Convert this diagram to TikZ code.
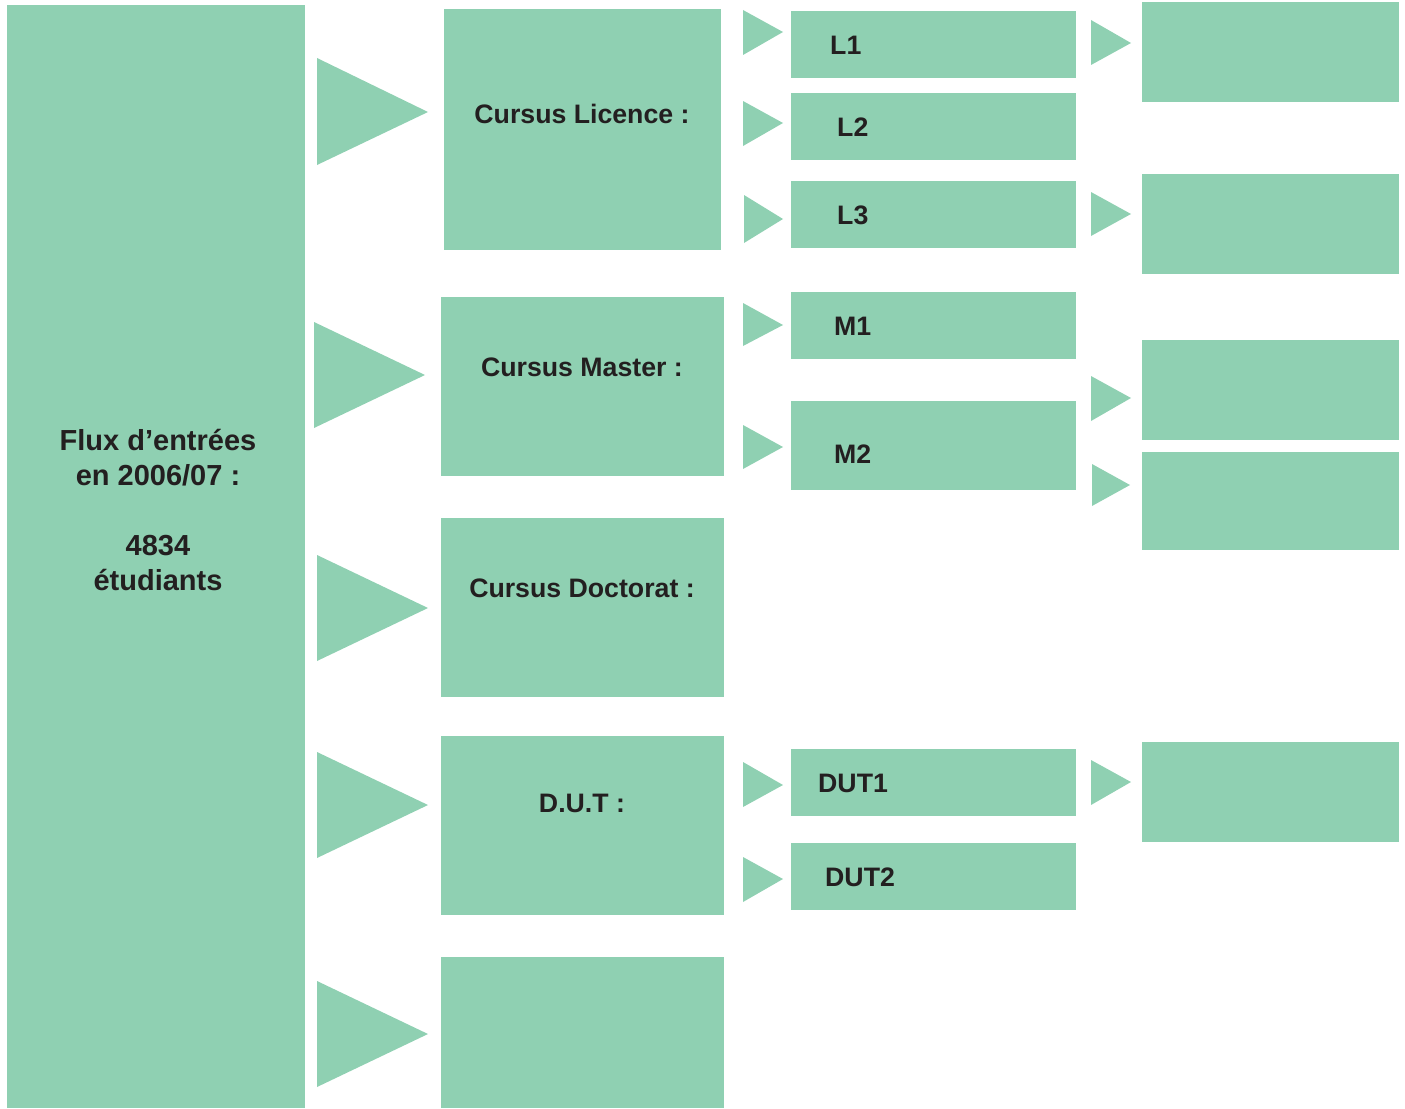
\documentclass[tikz,border=0pt]{standalone}
\usepackage{fontspec}
\setmainfont{Liberation Sans}
\usetikzlibrary{positioning}
\definecolor{flowgreen}{HTML}{8FD0B2}
\definecolor{flowtext}{HTML}{231F20}

\begin{document}
\begin{tikzpicture}[
    x=1pt, y=-1pt,
    box/.style={rectangle, fill=flowgreen, draw=none, inner sep=0pt,
                outer sep=0pt, anchor=north west},
    tri/.style={fill=flowgreen, draw=none},
    lbl/.style={text=flowtext, inner sep=0pt,
                font=\fontsize{26.7}{32}\selectfont\bfseries},
    biglbl/.style={text=flowtext, inner sep=0pt, align=center,
                   font=\fontsize{29}{35}\selectfont\bfseries}
]
\useasboundingbox (0,0) rectangle (1405,1108);

% Left column: total intake
\node[box, minimum width=298pt, minimum height=1103pt] (flux) at (7,5) {};
\node[biglbl] (fluxtxt) at (158,510) {Flux d’entrées\\en 2006/07 :\\[35pt]4834\\étudiants};

% Second column: cursus
\node[box, minimum width=277pt, minimum height=241pt] (licence) at (444,9) {};
\node[box, minimum width=283pt, minimum height=179pt] (master) at (441,297) {};
\node[box, minimum width=283pt, minimum height=179pt] (doctorat) at (441,518) {};
\node[box, minimum width=283pt, minimum height=179pt] (dut) at (441,736) {};
\node[box, minimum width=283pt, minimum height=151pt] (autre) at (441,957) {};
\node[lbl] (licencetxt) at (582,114) {Cursus Licence :};
\node[lbl] (mastertxt) at (582,367) {Cursus Master :};
\node[lbl] (doctorattxt) at (582,588) {Cursus Doctorat :};
\node[lbl] (duttxt) at (582,803) {D.U.T :};

% Third column: years
\node[box, minimum width=285pt, minimum height=67pt] (l1) at (791,11) {};
\node[box, minimum width=285pt, minimum height=67pt] (l2) at (791,93) {};
\node[box, minimum width=285pt, minimum height=67pt] (l3) at (791,181) {};
\node[box, minimum width=285pt, minimum height=67pt] (m1) at (791,292) {};
\node[box, minimum width=285pt, minimum height=89pt] (m2) at (791,401) {};
\node[box, minimum width=285pt, minimum height=67pt] (dut1) at (791,749) {};
\node[box, minimum width=285pt, minimum height=67pt] (dut2) at (791,843) {};
\node[lbl, anchor=west] (l1txt) at (830,45) {L1};
\node[lbl, anchor=west] (l2txt) at (837,127) {L2};
\node[lbl, anchor=west] (l3txt) at (837,215) {L3};
\node[lbl, anchor=west] (m1txt) at (834,326) {M1};
\node[lbl, anchor=west] (m2txt) at (834,454) {M2};
\node[lbl, anchor=west] (dut1txt) at (818,783) {DUT1};
\node[lbl, anchor=west] (dut2txt) at (825,877) {DUT2};

% Right column: empty outcome boxes
\node[box, minimum width=257pt, minimum height=100pt] (r1) at (1142,2) {};
\node[box, minimum width=257pt, minimum height=100pt] (r2) at (1142,174) {};
\node[box, minimum width=257pt, minimum height=100pt] (r3) at (1142,340) {};
\node[box, minimum width=257pt, minimum height=98pt] (r4) at (1142,452) {};
\node[box, minimum width=257pt, minimum height=100pt] (r5) at (1142,742) {};

% Triangles (base x / top y / bottom y / tip x / tip y)
\foreach \bx/\ty/\by/\tx/\my in {
    317/58/165/428/112, 314/322/428/425/375, 317/555/661/428/608,
    317/752/858/428/805, 317/981/1087/428/1034,
    743/10/55/783/32, 743/101/146/783/123, 744/195/243/783/219,
    743/303/346/783/325, 743/425/469/783/447,
    743/762/807/783/785, 743/857/902/783/879,
    1091/20/65/1131/43, 1091/192/236/1131/214, 1091/376/421/1131/398,
    1092/464/506/1130/485, 1091/760/805/1131/782}
  \fill[tri] (\bx,\ty) -- (\tx,\my) -- (\bx,\by) -- cycle;

\end{tikzpicture}
\end{document}
